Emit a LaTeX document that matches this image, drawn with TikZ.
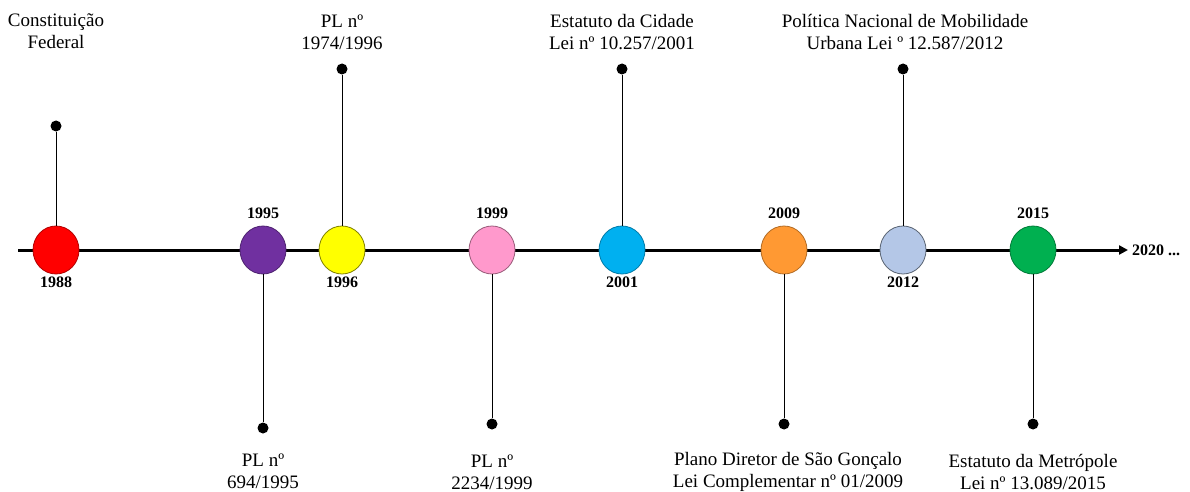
\documentclass[tikz,border=0pt]{standalone}
\usepackage{fontspec}
\setmainfont{Liberation Serif}
\usetikzlibrary{shapes.geometric,arrows.meta}
\definecolor{cRed}{HTML}{FF0000}
\definecolor{cPurple}{HTML}{7030A0}
\definecolor{cYellow}{HTML}{FFFF00}
\definecolor{cPink}{HTML}{FF99CC}
\definecolor{cBlue}{HTML}{00B0F0}
\definecolor{cOrange}{HTML}{FF9933}
\definecolor{cLight}{HTML}{B4C7E7}
\definecolor{cGreen}{HTML}{00B050}
\tikzset{
  evt/.style={ellipse, minimum width=46pt, minimum height=48pt, inner sep=0pt, line width=0.8pt},
  yr/.style={font=\fontsize{16}{18}\selectfont\bfseries, inner sep=0pt},
  lbl/.style={font=\fontsize{19}{22}\selectfont, align=center, inner sep=0pt},
  pin/.style={circle, fill=black, minimum size=11pt, inner sep=0pt},
  stem/.style={line width=0.8pt},
}
\begin{document}
\begin{tikzpicture}[x=1pt,y=-1pt]
\useasboundingbox (0,0) rectangle (1190,492);
\fill[white] (0,0) rectangle (1190,492);
% axis
\coordinate (s) at (18,250);
\coordinate (e) at (1128,250);
\draw[line width=3pt, -{Triangle[length=9pt,width=9pt]}] (s) -- (e);
\node[yr, anchor=west] (y2020) at (1132,250) {2020 ...};
% events
\node[evt, draw=cRed!70!black, fill=cRed] (c1988) at (56,250) {};
\node[evt, draw=cPurple!70!black, fill=cPurple] (c1995) at (263,250) {};
\node[evt, draw=cYellow!50!black, fill=cYellow] (c1996) at (342,250) {};
\node[evt, draw=cPink!60!black, fill=cPink] (c1999) at (492,250) {};
\node[evt, draw=cBlue!70!black, fill=cBlue] (c2001) at (622,250) {};
\node[evt, draw=cOrange!70!black, fill=cOrange] (c2009) at (784,250) {};
\node[evt, draw=cLight!50!black, fill=cLight] (c2012) at (903,250) {};
\node[evt, draw=cGreen!70!black, fill=cGreen] (c2015) at (1033,250) {};
% years
\node[yr] (t1988) at (56,282) {1988};
\node[yr] (t1995) at (263,213) {1995};
\node[yr] (t1996) at (342,282) {1996};
\node[yr] (t1999) at (492,213) {1999};
\node[yr] (t2001) at (622,282) {2001};
\node[yr] (t2009) at (784,213) {2009};
\node[yr] (t2012) at (903,282) {2012};
\node[yr] (t2015) at (1033,213) {2015};
% pins
\node[pin] (p1988) at (56,126) {};
\node[pin] (p1996) at (342,69) {};
\node[pin] (p2001) at (622,69) {};
\node[pin] (p2012) at (903,69) {};
\node[pin] (p1995) at (263,428) {};
\node[pin] (p1999) at (492,424) {};
\node[pin] (p2009) at (784,424) {};
\node[pin] (p2015) at (1033,424) {};
\draw[stem] (p1988) -- (c1988);
\draw[stem] (p1996) -- (c1996);
\draw[stem] (p2001) -- (c2001);
\draw[stem] (p2012) -- (c2012);
\draw[stem] (c1995) -- (p1995);
\draw[stem] (c1999) -- (p1999);
\draw[stem] (c2009) -- (p2009);
\draw[stem] (c2015) -- (p2015);
% labels
\node[lbl] (l1988) at (56,31) {Constituição\\Federal};
\node[lbl] (l1996) at (342,32) {PL nº\\1974/1996};
\node[lbl] (l2001) at (622,32) {Estatuto da Cidade\\Lei nº 10.257/2001};
\node[lbl] (l2012) at (905,32) {Política Nacional de Mobilidade\\Urbana Lei º 12.587/2012};
\node[lbl] (l1995) at (263,471) {PL nº\\694/1995};
\node[lbl] (l1999) at (492,472) {PL nº\\2234/1999};
\node[lbl] (l2009) at (788,472) {Plano Diretor de São Gonçalo\\Lei Complementar nº 01/2009};
\node[lbl] (l2015) at (1033,472) {Estatuto da Metrópole\\Lei nº 13.089/2015};
\end{tikzpicture}
\end{document}
